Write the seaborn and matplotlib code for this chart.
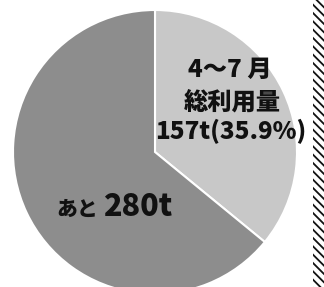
import matplotlib
matplotlib.use("Agg")
import matplotlib.pyplot as plt
import seaborn as sns
from matplotlib.patches import Rectangle

# data
labels = ["4～7 月\n総利用量", "あと"]
values = [157, 280]
colors = ["#c8c8c8", "#8d8d8d"]

sns.set_theme(style="white")
plt.rcParams['font.family'] = ['Noto Sans CJK JP', 'DejaVu Sans']
plt.rcParams['hatch.linewidth'] = 1.3
plt.rcParams['hatch.color'] = '#111111'

W, H = 324, 287
fig = plt.figure(figsize=(W / 100, H / 100), dpi=100)
ax = fig.add_axes([0, 0, 1, 1])

# pie center / radius in pixels
cx, cy, r = 155, 152, 142

ax.pie(values, colors=colors, startangle=90, counterclock=False,
       radius=1, wedgeprops=dict(edgecolor="white", linewidth=1.5))
ax.set_xlim(-cx / r, (W - cx) / r)
ax.set_ylim(-(H - cy) / r, cy / r)
ax.set_aspect("equal")
ax.axis("off")

total = sum(values)
pct = values[0] / total * 100

txt = dict(fontweight="black", color="#111111")
ax.text((230 - cx) / r, (cy - 70) / r, "4～7 月", ha="center", va="center",
        fontsize=17.5, **txt)
ax.text((232 - cx) / r, (cy - 102) / r, "総利用量", ha="center", va="center",
        fontsize=17.5, **txt)
ax.text((231 - cx) / r, (cy - 132) / r, f"{values[0]}t({pct:.1f}%)",
        ha="center", va="center", fontsize=17.5, **txt)

ax.text((98 - cx) / r, (cy - 216) / r, labels[1], ha="right", va="baseline",
        fontsize=15, **txt)
ax.text((103 - cx) / r, (cy - 216) / r, f"{values[1]}t", ha="left", va="baseline",
        fontsize=22, **txt)

# zigzag border on right
fig.patches.append(Rectangle((313 / W, 0), 11 / W, 1, transform=fig.transFigure,
                             facecolor="white", edgecolor="#111111",
                             hatch="\\" * 4, linewidth=0))

fig.savefig("out.png", dpi=100)
